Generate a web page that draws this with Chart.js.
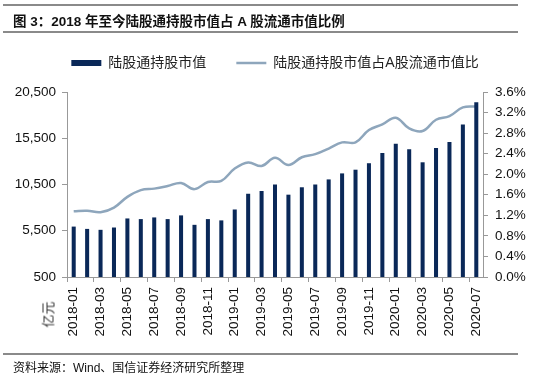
<!DOCTYPE html>
<html>
<head>
<meta charset="utf-8">
<script src="https://cdn.jsdelivr.net/npm/chart.js@4.4.1/dist/chart.umd.min.js"></script>
<style>
  html, body { margin: 0; padding: 0; background: #fff; }
  #wrap { position: relative; width: 550px; height: 375px; overflow: hidden; font-family: "Liberation Sans", "Noto Sans CJK SC", sans-serif; }
  #c { position: absolute; left: 0; top: 0; }
  .rule { position: absolute; left: 3px; width: 515px; height: 2px; background: #8a8a8a; }
  #title { position: absolute; left: 13px; top: 10px; font-size: 13.5px; font-weight: bold; color: #111; white-space: nowrap; }
  #source { position: absolute; left: 13px; top: 358px; font-size: 12px; color: #111; white-space: nowrap; }
  #unit { position: absolute; left: 34px; top: 305px; font-size: 13px; color: #333; transform: rotate(-90deg); transform-origin: center; white-space: nowrap; }
</style>
</head>
<body>
<div id="wrap">
  <canvas id="c" width="550" height="375"></canvas>
  <div class="rule" style="top:4px"></div>
  <div id="title">图 3：2018 年至今陆股通持股市值占 A 股流通市值比例</div>
  <div class="rule" style="top:31px"></div>
  <div id="unit">亿元</div>
  <div class="rule" style="top:353px"></div>
  <div id="source">资料来源：Wind、国信证券经济研究所整理</div>
</div>
<script>
const months = ["2018-01","2018-02","2018-03","2018-04","2018-05","2018-06","2018-07","2018-08","2018-09","2018-10","2018-11","2018-12",
                "2019-01","2019-02","2019-03","2019-04","2019-05","2019-06","2019-07","2019-08","2019-09","2019-10","2019-11","2019-12",
                "2020-01","2020-02","2020-03","2020-04","2020-05","2020-06","2020-07"];
const holdingValue = [5950, 5700, 5600, 5850, 6830, 6760, 6940, 6760, 7160, 6140, 6760, 6620,
                      7800, 9500, 9800, 10500, 9400, 10200, 10500, 11050, 11700, 12100, 12800, 13900,
                      14900, 14300, 12900, 14450, 15100, 17000, 19400];
const holdingRatio = [1.28, 1.29, 1.26, 1.35, 1.56, 1.69, 1.72, 1.77, 1.83, 1.71, 1.85, 1.87,
                      2.11, 2.23, 2.16, 2.32, 2.18, 2.33, 2.39, 2.50, 2.62, 2.62, 2.86, 2.97,
                      3.10, 2.89, 2.84, 3.06, 3.13, 3.30, 3.32];
const leftTicks = { min: 500, max: 20500, step: 5000 };
const rightTicks = { min: 0, max: 3.6, step: 0.4 };
const seriesNames = ["陆股通持股市值", "陆股通持股市值占A股流通市值比"];

const FONT = '"Liberation Sans", "Noto Sans CJK SC", sans-serif';
const AXIS = '#999999';

const legendSpacer = {
  id: 'legendSpacer',
  beforeInit(chart) {
    const lg = chart.legend;
    if (lg && !lg._patched) {
      const orig = lg.fit;
      lg.fit = function () { orig.call(this); this.height += 12; };
      lg._patched = true;
    }
  }
};

new Chart(document.getElementById('c'), {
  type: 'bar',
  plugins: [legendSpacer],
  data: {
    labels: months,
    datasets: [
      {
        label: seriesNames[0],
        data: holdingValue,
        backgroundColor: '#0A2858',
        borderWidth: 0,
        barPercentage: 0.3,
        categoryPercentage: 1.0,
        yAxisID: 'y',
        pointStyle: 'rect'
      },
      {
        type: 'line',
        label: seriesNames[1],
        data: holdingRatio,
        borderColor: '#8EA6BC',
        backgroundColor: '#8EA6BC',
        borderWidth: 2.5,
        pointRadius: 0,
        pointStyle: 'line',
        tension: 0.4,
        fill: false,
        yAxisID: 'y1'
      }
    ]
  },
  options: {
    responsive: false,
    animation: false,
    devicePixelRatio: 1,
    layout: { padding: { top: 26, left: 0, right: 0, bottom: 0 } },
    plugins: {
      tooltip: { enabled: false },
      legend: {
        position: 'top',
        labels: {
          usePointStyle: true,
          pointStyleWidth: 30,
          boxWidth: 30,
          boxHeight: 6,
          padding: 30,
          color: '#222',
          font: { family: FONT, size: 14 }
        }
      }
    },
    scales: {
      x: {
        offset: true,
        grid: {
          offset: true,
          drawOnChartArea: false,
          tickLength: 5,
          tickColor: (ctx) => (ctx.index % 2 === 0 ? AXIS : 'rgba(0,0,0,0)'),
          color: AXIS
        },
        border: { color: AXIS, width: 1 },
        ticks: {
          autoSkip: false,
          maxRotation: 90,
          minRotation: 90,
          padding: 5,
          color: '#111',
          font: { family: FONT, size: 13.5 },
          callback: function (val, idx) { return idx % 2 === 0 ? this.getLabelForValue(val) : ''; }
        },
        afterFit: (s) => { s.height = 98; }
      },
      y: {
        position: 'left',
        min: leftTicks.min,
        max: leftTicks.max,
        ticks: {
          stepSize: leftTicks.step,
          padding: 6,
          color: '#111',
          font: { family: FONT, size: 13.5 }
        },
        grid: { drawOnChartArea: false, tickLength: 5, color: AXIS },
        border: { color: AXIS, width: 1 },
        afterFit: (s) => { s.width = 67; }
      },
      y1: {
        position: 'right',
        min: rightTicks.min,
        max: rightTicks.max,
        ticks: {
          stepSize: rightTicks.step,
          padding: 7,
          color: '#111',
          font: { family: FONT, size: 13.5 },
          callback: (v) => Number(v).toFixed(1) + '%'
        },
        grid: { drawOnChartArea: false, tickLength: 5, color: AXIS },
        border: { color: AXIS, width: 1 },
        afterFit: (s) => { s.width = 67; }
      }
    }
  }
});
</script>
</body>
</html>
